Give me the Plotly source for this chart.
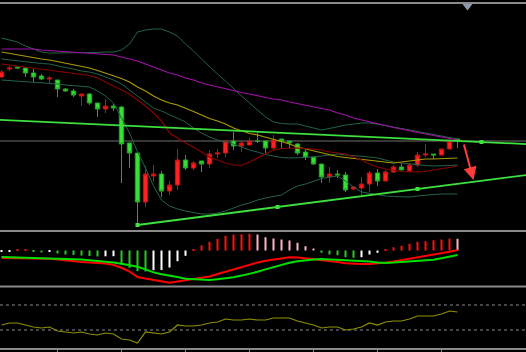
import plotly.graph_objects as go

W, H = 526, 352

# ---------------- data (price units) ----------------
opens  = [1223,1231,1233,1232,1227,1224,1221,1220,1211,1209,
          1204,1206,1197,1191,1194,1193,1157,1147,1098,1124,
          1126,1109,1115,1140,1132,1139,1136,1146,1147,1159,
          1154,1155,1159,1159,1152,1161,1159,1156,1148,1143,
          1136,1123,1126,1125,1111,1112,1116,1127,1119,1128,
          1133,1129,1135,1145,1146,1145,1151,1161]
highs  = [1230,1234,1233.5,1233,1231,1226,1224,1220,1212,1211,
          1206,1207,1197,1201,1196,1194,1157,1147,1134,1135,
          1129,1119,1151,1145,1139,1139,1150,1151,1160,1168,
          1160,1162,1167,1159,1165,1161,1159,1157,1150,1143,
          1136,1133,1130,1128,1114,1123,1129,1131,1130,1135,
          1137,1137,1148,1156,1146,1151,1163,1161]
lows   = [1222,1229,1231.5,1223,1218,1220,1217,1203,1208,1203,
          1194,1195,1183,1187,1189,1117,1132,1074,1093,1118,
          1103,1105,1110,1130,1130,1128,1132,1142,1143,1150,
          1148,1155,1157,1147,1150,1152,1151,1145,1140,1135,
          1117,1117,1122,1108,1110,1104,1108,1114,1119,1127,
          1130,1128,1133,1143,1141,1145,1151,1152]
closes = [1228,1232,1232,1227,1223,1221,1222,1211,1209,1205,
          1206,1197,1191,1194,1192,1156,1147,1098,1126,1126,
          1109,1115,1140,1132,1137,1136,1146,1147,1159,1154,
          1157,1159,1158.5,1152,1160,1159,1157,1147,1143,1136,
          1123,1126,1125,1110,1113,1116,1127,1119,1128,1133,
          1130,1135,1145,1146,1145,1151,1159,1159]

ma_slow = [1251,1251,1251,1251,1251,1250,1249.5,1249,1248,1248,
           1247.5,1247,1246.5,1246,1245,1243,1241,1239,1236,1233,
           1230,1227,1225,1222,1220,1217,1215,1213,1211,1209,
           1207.5,1206,1204,1202.5,1201,1200,1198,1196.5,1195,1193,
           1191.5,1190,1187,1185,1182,1180,1178,1176,1174,1172.5,
           1171,1169,1167.5,1166,1164.5,1163,1161.5,1160]
ma_mid = [1248,1246.5,1245,1243.5,1242,1241,1240,1238.5,1237,1235,
          1233.5,1232,1229.5,1227,1224,1221.5,1218,1213,1209,1204,
          1200,1197,1195,1192,1188.5,1185,1181.5,1179,1176,1172,
          1169,1166.5,1165,1163,1161,1158.5,1156,1153,1151,1149,
          1147,1145,1143.5,1142.5,1141.5,1141,1140,1138.5,1137.5,1137,
          1138,1139,1140,1141,1141,1141.5,1142,1142]
ma_fast = [1236,1235,1234,1233,1232,1231,1230,1229,1227.5,1226.5,
           1225.5,1224.5,1222,1218,1214,1210,1206,1200,1194,1187,
           1179,1167,1162,1157,1153,1148,1143,1140,1137,1135,
           1134.5,1138,1142,1146,1150,1151.5,1152,1152,1151.5,1151,
           1150,1148,1147,1146,1143,1140,1136,1133,1131,1129.5,
           1128.5,1128,1128,1128.5,1130,1131.5,1133,1134]
bb_mid = [1241,1240,1239,1238,1237,1236.5,1236,1234,1232.5,1231,
          1229,1228,1226,1223,1220,1216,1210,1204,1198,1192,
          1189,1185.5,1182,1178,1172,1167,1163,1160,1158,1156,
          1153,1150,1148,1145.5,1144,1142.5,1142,1142,1142.5,1143,
          1144,1145,1146,1145,1144.5,1144,1143,1142,1140,1138,
          1137,1136,1135,1134.5,1134,1134,1134.5,1135]
bb_upper = [1262,1260,1258,1254,1251,1248,1247,1247,1247,1247,
            1247,1247,1247.5,1248,1248,1250,1256,1268,1270,1271,
            1271,1268,1264,1256,1249,1241,1233,1226,1219,1211,
            1204,1197,1190,1183,1178,1176.5,1176,1176,1174,1172,
            1170,1171.5,1173.5,1175,1176,1177,1177,1176,1174.5,1173,
            1171.5,1170,1168.5,1167,1165.5,1164,1162.5,1161]
bb_lower = [1220,1219.5,1219,1218.5,1218,1217.5,1217,1216,1215,1214.5,
            1214,1213,1209,1204,1197,1182,1167,1148,1132,1114,
            1100,1094,1091,1089,1087.5,1086,1086,1087,1089,1092,
            1095,1097,1100,1102,1103.5,1105,1110,1114,1116,1119,
            1121.5,1123,1124,1119,1113,1108,1106.5,1105,1104,1103.5,
            1103,1103,1104,1105,1105.5,1106,1106,1106]

macd_hist = [-0.12,-0.10,0.10,0.12,-0.10,-0.20,-0.15,-0.30,-0.40,-0.45,
             -0.50,-0.55,-0.60,-0.58,-0.57,-1.40,-1.73,-2.07,-2.10,-1.97,
             -1.95,-1.70,-1.07,-0.53,0.10,0.50,0.87,1.17,1.47,1.60,
             1.62,1.67,1.60,1.33,1.20,1.10,1.00,0.77,0.43,0.20,
             -0.23,-0.40,-0.47,-0.67,-0.73,-0.67,-0.40,-0.23,0.10,0.33,
             0.47,0.67,0.87,0.93,1.03,1.10,1.20,1.17]
macd_red = [-0.75,-0.76,-0.77,-0.78,-0.79,-0.80,-0.82,-0.90,-1.00,-1.08,
            -1.15,-1.21,-1.27,-1.31,-1.45,-1.73,-2.10,-2.65,-2.81,-2.97,
            -3.13,-3.23,-3.10,-2.98,-2.85,-2.75,-2.59,-2.35,-2.11,-1.89,
            -1.65,-1.40,-1.20,-1.02,-0.90,-0.78,-0.68,-0.69,-0.77,-0.85,
            -0.95,-1.05,-1.15,-1.28,-1.35,-1.35,-1.35,-1.30,-1.20,-1.10,
            -0.97,-0.83,-0.70,-0.57,-0.43,-0.28,-0.12,0.05]
macd_green = [-0.65,-0.67,-0.68,-0.70,-0.71,-0.73,-0.75,-0.79,-0.83,-0.87,
              -0.91,-0.97,-1.05,-1.13,-1.21,-1.32,-1.47,-1.62,-1.89,-2.19,
              -2.38,-2.49,-2.65,-2.83,-2.88,-2.92,-2.95,-2.87,-2.79,-2.68,
              -2.51,-2.33,-2.13,-1.89,-1.65,-1.41,-1.23,-1.07,-0.95,-0.90,
              -0.86,-0.89,-0.92,-0.96,-1.00,-1.04,-1.11,-1.19,-1.24,-1.21,
              -1.16,-1.12,-1.08,-1.03,-0.93,-0.78,-0.62,-0.45]
rsi = [38,41.2,41.2,38,34.8,33.2,34.8,28.4,26.8,25.2,
       26.8,23.6,22,25.2,23.6,15.6,14,9.2,26.8,25.2,
       23.6,26.8,38,36.4,36.4,38,41.2,42.8,47.6,46,
       46,47.6,46,46,49.2,49.2,49.2,44.4,41.2,38,
       33.2,34.8,34.8,30,31.6,34.8,41.2,38,42.8,44.4,
       44.4,47.6,52.4,52.4,52.4,55.6,60.4,58.8]
rsi_levels = [30, 70]

# trend line anchors (bar index, price)
support_anchors = [(17, 1075), (52, 1111)]
resist_anchors = [(15, 1174.5), (60, 1158)]
arrow_tail = (57.75, 1157)
arrow_head = (59.0, 1120)
shift_marker = (58.25, 1294)
tick_bars = [7, 15, 23, 31, 39, 47, 55]

# ---------------- layout constants ----------------
X_RANGE = [-0.1875, 65.5625]
def pdom(top_px, bot_px):
    return [(H - bot_px) / H, (H - top_px) / H]

MAIN_DOM = pdom(4, 230)
MACD_DOM = pdom(232, 285)
RSI_DOM = pdom(288, 348)
MAIN_RANGE = [1070, 1296]
MACD_RANGE = [(250.5 - 285) / 10, (250.5 - 232) / 10]
RSI_RANGE = [30 + 1.6 * (330 - 348), 30 + 1.6 * (330 - 288)]

BB_COLOR = '#24624a'
TL_COLOR = '#3ee03e'
x = list(range(len(closes)))

fig = go.Figure()

# Bollinger bands
for band in (bb_upper, bb_mid, bb_lower):
    fig.add_trace(go.Scatter(x=x, y=band, mode='lines',
                             line=dict(color=BB_COLOR, width=1), yaxis='y'))
# moving averages
fig.add_trace(go.Scatter(x=x, y=ma_slow, mode='lines', line=dict(color='#a010a8', width=1.2)))
fig.add_trace(go.Scatter(x=x, y=ma_mid, mode='lines', line=dict(color='#a89c00', width=1.2)))
fig.add_trace(go.Scatter(x=x, y=ma_fast, mode='lines', line=dict(color='#8a0000', width=1.2)))

# candles
fig.add_trace(go.Candlestick(
    x=x, open=opens, high=highs, low=lows, close=closes,
    increasing=dict(line=dict(color='#c81010', width=1), fillcolor='#ff2222'),
    decreasing=dict(line=dict(color='#22a822', width=1), fillcolor='#36e036'),
    whiskerwidth=0, yaxis='y'))

# trend lines extended to the plot edges
def extend(anchors):
    (x0, y0), (x1, y1) = anchors
    s = (y1 - y0) / (x1 - x0)
    return [X_RANGE[0], X_RANGE[1]], [y0 + s * (X_RANGE[0] - x0), y0 + s * (X_RANGE[1] - x0)]

sx0, sy0 = support_anchors[0]
sx1, sy1 = support_anchors[1]
slope = (sy1 - sy0) / (sx1 - sx0)
fig.add_trace(go.Scatter(x=[sx0, X_RANGE[1]], y=[sy0, sy0 + slope * (X_RANGE[1] - sx0)], mode='lines',
                         line=dict(color=TL_COLOR, width=1.8)))
fig.add_trace(go.Scatter(x=[sx0, (sx0 + sx1) / 2, sx1], y=[sy0, (sy0 + sy1) / 2, sy1],
                         mode='markers', marker=dict(symbol='square', size=4, color=TL_COLOR)))
rx, ry = extend(resist_anchors)
fig.add_trace(go.Scatter(x=rx, y=ry, mode='lines', line=dict(color=TL_COLOR, width=1.8)))
fig.add_trace(go.Scatter(x=[resist_anchors[1][0]], y=[resist_anchors[1][1]], mode='markers',
                         marker=dict(symbol='square', size=4, color=TL_COLOR)))

# shift marker at top
fig.add_trace(go.Scatter(x=[shift_marker[0]], y=[shift_marker[1]], mode='markers', cliponaxis=False,
                         marker=dict(symbol='triangle-down', size=9, color='#8a9bb0')))

# MACD histogram colours by rule
hist_colors = []
for k, v in enumerate(macd_hist):
    prev = macd_hist[k - 1] if k > 0 else v
    if v >= 0:
        hist_colors.append('#ff1010' if v >= prev else '#ffb4c4')
    else:
        hist_colors.append('#28c828' if v < prev else '#ffffff')
fig.add_trace(go.Bar(x=x, y=macd_hist, marker=dict(color=hist_colors, line=dict(width=0)),
                     width=0.25, yaxis='y2'))
fig.add_trace(go.Scatter(x=x, y=macd_red, mode='lines', line=dict(color='#ff0000', width=2), yaxis='y2'))
fig.add_trace(go.Scatter(x=x, y=macd_green, mode='lines', line=dict(color='#00e000', width=2), yaxis='y2'))

# RSI
fig.add_trace(go.Scatter(x=x, y=rsi, mode='lines', line=dict(color='#8f8f00', width=1.2), yaxis='y3'))

shapes = []
# current price line
shapes.append(dict(type='line', xref='paper', x0=0, x1=1, yref='y', y0=closes[-1], y1=closes[-1],
                   line=dict(color='#4a4a4a', width=1.5), layer='below'))
# RSI levels
for lv in rsi_levels:
    shapes.append(dict(type='line', xref='paper', x0=0, x1=1, yref='y3', y0=lv, y1=lv,
                       line=dict(color='#8a8a8a', width=1, dash='dot'), layer='below'))
# panel separators
for top_px, bot_px in [(2, 4), (230, 232), (285.5, 287.5)]:
    shapes.append(dict(type='rect', xref='paper', x0=0, x1=1, yref='paper',
                       y0=(H - bot_px) / H, y1=(H - top_px) / H,
                       fillcolor='#8a8a8a', line=dict(width=0), layer='above'))

fig.add_annotation(x=arrow_head[0], y=arrow_head[1], ax=arrow_tail[0], ay=arrow_tail[1],
                   xref='x', yref='y', axref='x', ayref='y', text='', showarrow=True,
                   arrowhead=2, arrowsize=1.3, arrowwidth=2, arrowcolor='#ff3c3c')

axis_common = dict(showgrid=False, zeroline=False, showticklabels=False, fixedrange=True)
fig.update_layout(
    width=W, height=H, margin=dict(l=0, r=0, t=0, b=0),
    paper_bgcolor='#000000', plot_bgcolor='#000000', showlegend=False,
    boxgap=0.22,
    shapes=shapes,
    xaxis=dict(range=X_RANGE, anchor='y3', rangeslider=dict(visible=False),
               showline=True, linecolor='#8a8a8a', linewidth=2,
               ticks='outside', tickvals=tick_bars, ticklen=3, tickcolor='#8a8a8a',
               showgrid=False, zeroline=False, showticklabels=False),
    yaxis=dict(domain=MAIN_DOM, range=MAIN_RANGE, **axis_common),
    yaxis2=dict(domain=MACD_DOM, range=MACD_RANGE, **axis_common),
    yaxis3=dict(domain=RSI_DOM, range=RSI_RANGE, **axis_common),
)

fig.write_html("out.html")
